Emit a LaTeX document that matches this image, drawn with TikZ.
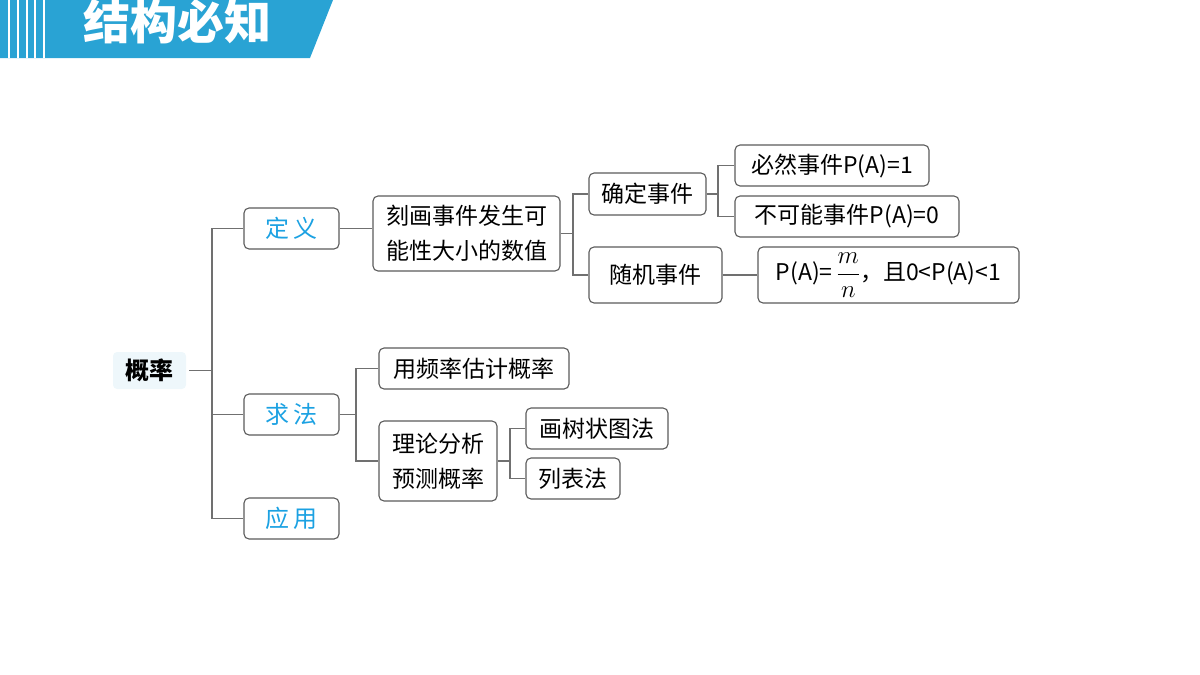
\documentclass[tikz,border=0pt]{standalone}
\usepackage{fontspec}
\setmainfont{Noto Sans CJK SC}
\definecolor{hdr}{HTML}{29A3D4}
\definecolor{lnc}{HTML}{707070}
\definecolor{bdc}{HTML}{5A5A5A}
\definecolor{blu}{HTML}{1BA1E2}
\definecolor{rootfill}{HTML}{EEF7FB}
\begin{document}
\begin{tikzpicture}[x=1pt,y=-1pt,
  box/.style={draw=bdc,line width=1.1pt,rounded corners=5pt,inner sep=0pt,
    font=\fontsize{23}{35}\selectfont,align=center},
  cat/.style={box,minimum width=95pt,minimum height=41pt,text=blu,
    font=\fontsize{24}{28}\selectfont},
  conn/.style={draw=lnc,line width=1.1pt}]
\useasboundingbox (0,0) rectangle (1200,675);
% header
\fill[hdr] (0,0) -- (333,0) -- (310,58) -- (0,58) -- cycle;
\foreach \sx in {9,18,27,35,44} \draw[white,line width=1.5pt] (\sx,0) -- (\sx,58);
\node[text=white,font=\fontsize{47}{52}\selectfont\bfseries] (title) at (177,22) {结构必知};
% nodes
\node[fill=rootfill,rounded corners=4pt,minimum width=73pt,minimum height=37pt,inner sep=0pt,
  font=\fontsize{24}{28}\selectfont\bfseries] (root) at (149.5,370.5) {概率};
\node[cat] (dy) at (291.5,228.5) {定\,义};
\node[cat] (qf) at (291.5,414.5) {求\,法};
\node[cat] (yy) at (291.5,518.5) {应\,用};
\node[box,minimum width=187pt,minimum height=75pt] (kh) at (466.5,233.5) {刻画事件发生可\\能性大小的数值};
\node[box,minimum width=117pt,minimum height=42pt] (qd) at (647.5,194) {确定事件};
\node[box,minimum width=133pt,minimum height=56pt] (sj) at (655.5,275) {随机事件};
\node[box,minimum width=194pt,minimum height=41pt] (br) at (832,165.5) {必然事件P(A)=1};
\node[box,minimum width=224pt,minimum height=41pt] (bk) at (847,216.5) {不可能事件P(A)=0};
\node[box,minimum width=261pt,minimum height=56pt] (fm) at (888.5,275) {P(A)=\,$\displaystyle\frac{m}{n}$，且0<P(A)<1};
\node[box,minimum width=190pt,minimum height=41pt] (yp) at (474,368.5) {用频率估计概率};
\node[box,minimum width=118pt,minimum height=80pt] (ll) at (438,461) {理论分析\\预测概率};
\node[box,minimum width=142pt,minimum height=41pt] (hs) at (597,428.5) {画树状图法};
\node[box,minimum width=94pt,minimum height=41pt] (lb) at (573,478.5) {列表法};
% junctions
\coordinate (j1) at (212,370.5);
\coordinate (j2) at (573,235);
\coordinate (j3) at (718,194);
\coordinate (j4) at (356,414.5);
\coordinate (j5) at (510,456);
% connectors
\draw[conn] ([xshift=3pt]root.east) -- (j1);
\draw[conn] (dy.west) -| (j1) |- (yy.west);
\draw[conn] (qf.west) -- (qf.west -| j1);
\draw[conn] (dy.east) -- (dy.east -| kh.west);
\draw[conn] (kh.east) -- (kh.east -| j2);
\draw[conn] (qd.west) -| (j2) |- (sj.west);
\draw[conn] (qd.east) -- (qd.east -| j3);
\draw[conn] (br.west) -| (j3) |- (bk.west);
\draw[conn] (sj.east) -- (fm.west);
\draw[conn] (qf.east) -- (qf.east -| j4);
\draw[conn] (yp.west) -| (j4) |- (ll.west);
\draw[conn] (ll.east) -- (ll.east -| j5);
\draw[conn] (hs.west) -| (j5) |- (lb.west);
\end{tikzpicture}
\end{document}
